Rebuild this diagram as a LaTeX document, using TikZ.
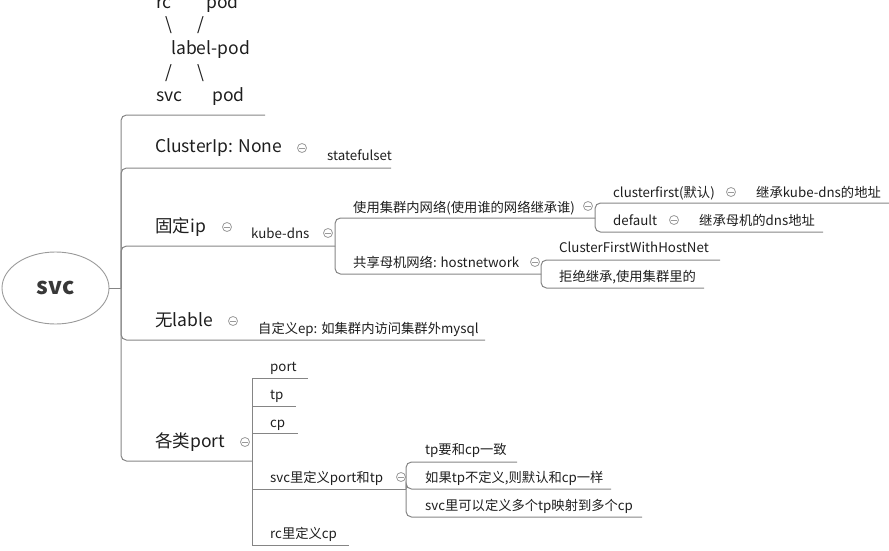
\documentclass[tikz,border=0pt]{standalone}
\usepackage{fontspec}
\setmainfont{Noto Sans CJK SC}
\usetikzlibrary{shapes.geometric}
\definecolor{txt}{HTML}{1E1E1E}
\definecolor{linec}{HTML}{858585}
\definecolor{foldc}{HTML}{9A9A9A}
\begin{document}
\begin{tikzpicture}[x=1pt,y=-1pt,
  lbig/.style={anchor=base west, inner sep=0pt, font=\fontsize{17.5}{20}\selectfont, text=txt},
  lsmall/.style={anchor=base west, inner sep=0pt, font=\fontsize{13.3}{16}\selectfont, text=txt},
  branch/.style={draw=linec, line width=1pt, rounded corners=5.5pt},
  sqbranch/.style={draw=linec, line width=1pt},
  fold/.style={circle, draw=foldc, line width=0.8pt, minimum size=9pt, inner sep=0pt,
    path picture={\draw[foldc, line width=0.8pt] ([xshift=-2.6pt]path picture bounding box.center) -- ([xshift=2.6pt]path picture bounding box.center);}},
  rootnode/.style={ellipse, draw=foldc, line width=0.9pt, minimum width=107pt, minimum height=72pt, inner sep=0pt,
    font=\fontsize{23}{26}\selectfont\bfseries, text=black!78}
]
\useasboundingbox (0,0) rectangle (889,551);

% root
\node[rootnode] (root) at (55.5,288) {svc};

% junction coordinates
\coordinate (R) at (121,288);
\coordinate (K) at (335,246);
\coordinate (U) at (595,218);
\coordinate (H) at (541,274);
\coordinate (P) at (252,461);
\coordinate (S) at (406,489);

% underline end points
\coordinate (eTop) at (265,115);
\coordinate (eCIP) at (391,168);
\coordinate (eNL) at (485,340);
\coordinate (eCF) at (889,203);
\coordinate (eDF) at (823,232);
\coordinate (eCFH) at (720,260);
\coordinate (eRJ) at (704,288);
\coordinate (ePort) at (308,378);
\coordinate (eTp) at (296,406);
\coordinate (eCp) at (298,433);
\coordinate (eRc) at (349,545);
\coordinate (eS1) at (517,462);
\coordinate (eS2) at (611,489);
\coordinate (eS3) at (642,517);

% top multi-line text
\node[lbig] (t1) at (156,9) {rc};
\node[lbig] (t2) at (206,9) {pod};
\node[lbig] (t3) at (165,31) {\textbackslash};
\node[lbig] (t4) at (197,31) {/};
\node[lbig] (t5) at (171,55) {label-pod};
\node[lbig] (t6) at (165,78) {/};
\node[lbig] (t7) at (197,78) {\textbackslash};
\node[lbig] (t8) at (156,101) {svc};
\node[lbig] (t9) at (212,101) {pod};

% level 1
\node[lbig] (cip) at (155,152) {ClusterIp: None};
\node[fold] (fcip) at (302,148) {};
\node[lbig] (gd) at (155,232) {固定ip};
\node[fold] (fgd) at (227,227) {};
\node[lbig] (wl) at (155,326) {无lable};
\node[fold] (fwl) at (233,321) {};
\node[lbig] (gl) at (155,447) {各类port};
\node[fold] (fgl) at (245,442) {};

% level 2
\node[lsmall] (sts) at (327,160) {statefulset};
\node[lsmall] (kd) at (251,238) {kube-dns};
\node[fold] (fkd) at (328,233) {};
\node[lsmall] (ep) at (258,333) {自定义ep: 如集群内访问集群外mysql};
\node[lsmall] (port) at (270,371) {port};
\node[lsmall] (tp) at (270,399) {tp};
\node[lsmall] (cp) at (270,427) {cp};
\node[lsmall] (svcd) at (270,482) {svc里定义port和tp};
\node[fold] (fsvcd) at (401,477) {};
\node[lsmall] (rcd) at (270,538) {rc里定义cp};

% level 3
\node[lsmall] (use) at (353,212) {使用集群内网络(使用谁的网络继承谁)};
\node[fold] (fuse) at (588,206) {};
\node[lsmall] (share) at (353,267) {共享母机网络: hostnetwork};
\node[fold] (fshare) at (535,262) {};
\node[lsmall] (s1) at (425,454) {tp要和cp一致};
\node[lsmall] (s2) at (425,482) {如果tp不定义,则默认和cp一样};
\node[lsmall] (s3) at (425,510) {svc里可以定义多个tp映射到多个cp};

% level 4
\node[lsmall] (cf) at (613,197) {clusterfirst(默认)};
\node[fold] (fcf) at (731,192) {};
\node[lsmall] (cfk) at (756,197) {继承kube-dns的地址};
\node[lsmall] (df) at (613,225) {default};
\node[fold] (fdf) at (674,220) {};
\node[lsmall] (dfk) at (699,225) {继承母机的dns地址};
\node[lsmall] (cfh) at (559,252) {ClusterFirstWithHostNet};
\node[lsmall] (rj) at (559,281) {拒绝继承,使用集群里的};

% connectors
\draw[linec, line width=1pt] (root.east) -- (R);
\draw[branch] (R) |- (eTop);
\draw[branch] (R) |- (eCIP);
\draw[branch] (R) |- (K);
\draw[branch] (R) |- (eNL);
\draw[branch] (R) |- (P);

\draw[branch] (K) |- (U);
\draw[branch] (K) |- (H);
\draw[branch] (U) |- (eCF);
\draw[branch] (U) |- (eDF);
\draw[branch] (H) |- (eCFH);
\draw[branch] (H) |- (eRJ);

\draw[sqbranch] (P) |- (ePort);
\draw[sqbranch] (P) |- (eTp);
\draw[sqbranch] (P) |- (eCp);
\draw[sqbranch] (P) |- (S);
\draw[sqbranch] (P) |- (eRc);

\draw[branch] (S) |- (eS1);
\draw[branch] (S) |- (eS2);
\draw[branch] (S) |- (eS3);
\end{tikzpicture}
\end{document}
